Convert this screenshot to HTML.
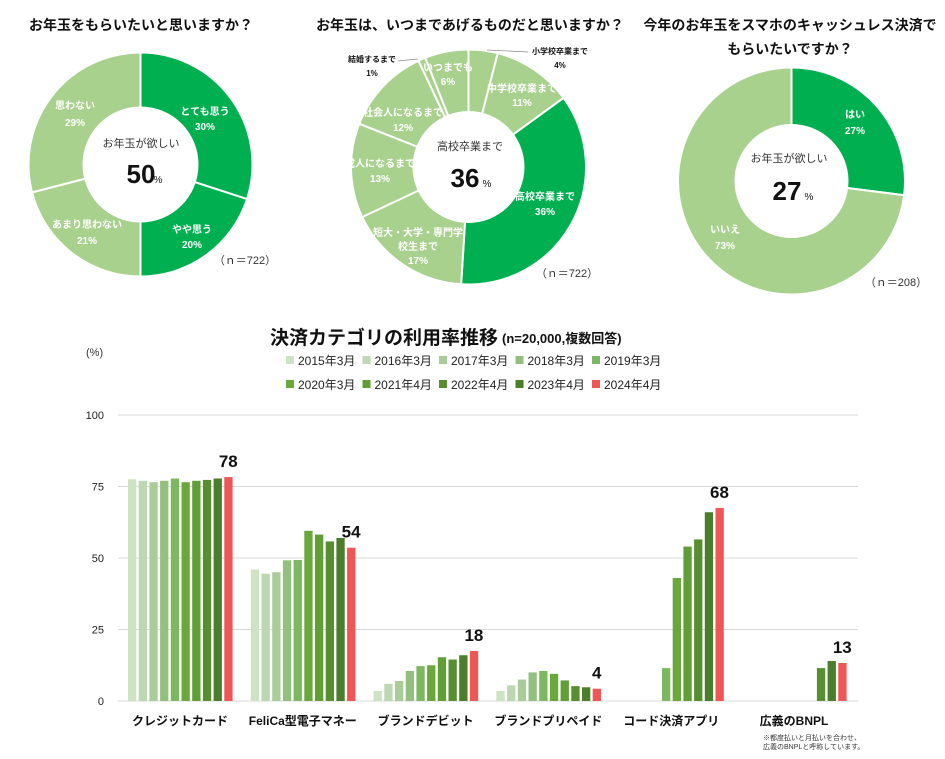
<!DOCTYPE html>
<html><head><meta charset="utf-8">
<style>
body{margin:0;background:#fff;}
svg{display:block;font-family:"Liberation Sans","Noto Sans CJK JP",sans-serif;}
.t{font-weight:bold;font-size:14px;fill:#111;}
.w{fill:#fff;font-size:10px;font-weight:bold;}
</style></head>
<body>
<svg id="s" width="945" height="759" viewBox="0 0 945 759" xmlns="http://www.w3.org/2000/svg">
<text class="t" x="141" y="30" text-anchor="middle">お年玉をもらいたいと思いますか？</text>
<text class="t" x="470" y="30" text-anchor="middle">お年玉は、いつまであげるものだと思いますか？</text>
<text class="t" x="790" y="30" text-anchor="middle">今年のお年玉をスマホのキャッシュレス決済で</text>
<text class="t" x="790" y="54" text-anchor="middle">もらいたいですか？</text>
</svg>
<script>
const NS="http://www.w3.org/2000/svg";
const s=document.getElementById('s');
function el(t,a,txt,p){const e=document.createElementNS(NS,t);for(const k in a)e.setAttribute(k,a[k]);if(txt!=null)e.textContent=txt;(p||s).appendChild(e);return e;}
const DG="#00b050",LG="#a9d18e";
function donut(cx,cy,R,r,sl){let a0=0;sl.forEach(([v,c])=>{const a1=a0+v/100*2*Math.PI;
 const p=(a,rr)=>[cx+rr*Math.sin(a),cy-rr*Math.cos(a)];const [x0,y0]=p(a0,R),[x1,y1]=p(a1,R);const lg=(a1-a0)>Math.PI?1:0;
 el('path',{d:`M${cx},${cy} L${x0},${y0} A${R},${R} 0 ${lg} 1 ${x1},${y1} Z`,fill:c,stroke:'#fff','stroke-width':2});a0=a1;});
 el('circle',{cx,cy,r,fill:'#fff'});}
function tx(x,y,t,cls,extra){const a=Object.assign({x,y,'text-anchor':'middle'},extra||{});if(cls)a['class']=cls;return el('text',a,t);}
// donut 1
donut(140.5,164.5,112,58,[[30,DG],[20,DG],[21,LG],[29,LG]]);
tx(205,115,'とても思う','w');tx(205,130,'30%','w');
tx(192,233,'やや思う','w');tx(192,248,'20%','w');
tx(87,228,'あまり思わない','w');tx(87,244,'21%','w');
tx(75,109,'思わない','w');tx(75,126,'29%','w');
tx(141,147,'お年玉が欲しい',null,{'font-size':11,fill:'#333'});
el('text',{x:141,y:183,'text-anchor':'middle','font-size':26,'font-weight':'bold',fill:'#111'},'50');
tx(158,183,'%',null,{'font-size':10,fill:'#111'});
tx(245,264,'（ｎ＝722）',null,{'font-size':11,fill:'#333'});
// donut 2
const f8={'font-size':8};
donut(468.5,167,117.5,56,[[4,LG],[11,LG],[36,DG],[17,LG],[13,LG],[12,LG],[1,LG],[6,LG]]);
tx(522,92,'中学校卒業まで','w',f8);tx(522,106,'11%','w',f8);
tx(545,200,'高校卒業まで','w',{'font-size':9});tx(545,215,'36%','w',{'font-size':9});
tx(418,236,'短大・大学・専門学','w',f8);tx(418,250,'校生まで','w',f8);tx(418,264,'17%','w',f8);
tx(380,167,'成人になるまで','w',f8);tx(380,182,'13%','w',f8);
tx(403,116,'社会人になるまで','w',f8);tx(403,131,'12%','w',f8);
tx(448,71,'いつまでも','w',f8);tx(448,85,'6%','w',f8);
tx(560,54,'小学校卒業まで',null,{'font-size':8,'font-weight':'bold',fill:'#111'});tx(560,68,'4%',null,{'font-size':8,'font-weight':'bold',fill:'#111'});
el('line',{x1:487,y1:50,x2:528,y2:52,stroke:'#888','stroke-width':0.7});
tx(372,62,'結婚するまで',null,{'font-size':8,'font-weight':'bold',fill:'#111'});tx(372,76,'1%',null,{'font-size':8,'font-weight':'bold',fill:'#111'});
el('line',{x1:398,y1:61,x2:418,y2:59,stroke:'#888','stroke-width':0.7});
tx(470,150,'高校卒業まで',null,{'font-size':11,fill:'#333'});
el('text',{x:465,y:187,'text-anchor':'middle','font-size':26,'font-weight':'bold',fill:'#111'},'36');
tx(487,187,'%',null,{'font-size':10,fill:'#111'});
tx(567,277,'（ｎ＝722）',null,{'font-size':11,fill:'#333'});
// donut 3
donut(791.5,181,113.5,57,[[27,DG],[73,LG]]);
tx(855,118,'はい','w');tx(855,134,'27%','w');
tx(725,233,'いいえ','w');tx(725,249,'73%','w');
tx(789,162,'お年玉が欲しい',null,{'font-size':11,fill:'#333'});
el('text',{x:787,y:200,'text-anchor':'middle','font-size':26,'font-weight':'bold',fill:'#111'},'27');
tx(809,200,'%',null,{'font-size':10,fill:'#111'});
tx(896,286,'（ｎ＝208）',null,{'font-size':11,fill:'#333'});
// bar chart
el('text',{x:270,y:344,'font-size':19,'font-weight':'bold',fill:'#111'},'決済カテゴリの利用率推移');
el('text',{x:502,y:343,'font-size':13,'font-weight':'bold',fill:'#111'},'(n=20,000,複数回答)');
const cols=["#cde3c4","#bcd7b1","#a9cc98","#93c07e","#7cb85f","#6aa83c","#609e36","#578f30","#4a7d2c","#ef5656"];
const lab=["2015年3月","2016年3月","2017年3月","2018年3月","2019年3月","2020年3月","2021年4月","2022年4月","2023年4月","2024年4月"];
for(let i=0;i<10;i++){const x=286+(i%5)*76.5,y=i<5?365:389;el('rect',{x,y:y-9,width:8,height:8,fill:cols[i]});el('text',{x:x+12,y,'font-size':12,fill:'#222'},lab[i]);}
el('text',{x:86,y:356,'font-size':11,fill:'#333'},'(%)');
const y0=701,k=2.86;
[0,25,50,75,100].forEach(v=>{const y=y0-v*k;el('line',{x1:118,y1:y,x2:858,y2:y,stroke:'#d9d9d9','stroke-width':1});el('text',{x:104,y:y+4,'text-anchor':'end','font-size':11,fill:'#222'},v);});
const data=[[77.5,77,76.5,77,77.8,76.5,77,77.3,77.8,78.3],[46,44.5,45,49.2,49.3,59.5,58.2,55.8,57,53.6],[3.5,6,7,10.5,12.2,12.5,15.3,14.5,16,17.5],[3.5,5.5,7.5,10,10.5,9.5,7.2,5.2,4.8,4.3],[0,0,0,0,11.5,43,54,56.5,66,67.5],[0,0,0,0,0,0,0,11.5,14,13.3]];
const cats=["クレジットカード","FeliCa型電子マネー","ブランドデビット","ブランドプリペイド","コード決済アプリ","広義のBNPL"];
const tops=["78","54","18","4","68","13"];
data.forEach((g,gi)=>{const gx=128+gi*122.8;g.forEach((v,i)=>{if(v>0)el('rect',{x:gx+i*10.7,y:y0-v*k,width:8.3,height:v*k,fill:cols[i]});});
 tx(gx+52,725,cats[gi],null,{'font-size':12,'font-weight':'bold',fill:'#111'});
 const xt=gx+9*10.7+4,yt=y0-g[9]*k-10;
 el('text',{x:xt,y:yt,'text-anchor':'middle','font-size':17,'font-weight':'bold',fill:'#111'},tops[gi]);});
el('text',{x:763,y:740,'font-size':7,fill:'#333'},'※都度払いと月払いを合わせ、');
el('text',{x:763,y:749,'font-size':7,fill:'#333'},'広義のBNPLと呼称しています。');
</script>
</body></html>
